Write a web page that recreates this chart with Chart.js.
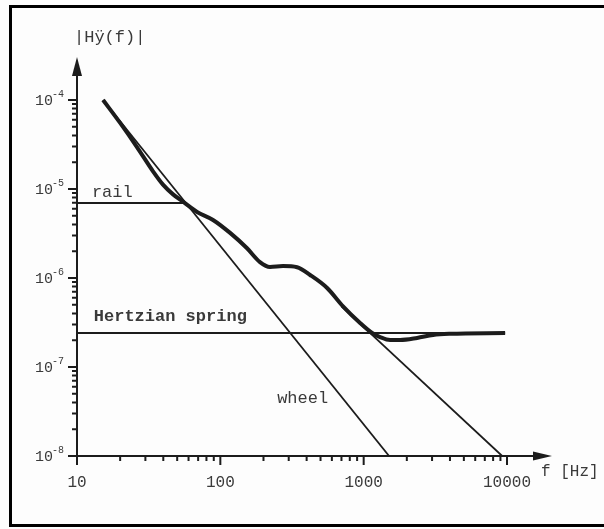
<!DOCTYPE html>
<html>
<head>
<meta charset="utf-8">
<script src="https://cdn.jsdelivr.net/npm/chart.js@4/dist/chart.umd.min.js"></script>
<style>
  html, body { margin: 0; padding: 0; background: #fdfdfd; }
  #wrap { width: 604px; height: 529px; }
</style>
</head>
<body>
<div id="wrap"><canvas id="freqChart" width="604" height="529"></canvas></div>
<script>
// total receptance |Hÿ(f)|
const totalFreq = [15.2, 20, 26.2, 33.9, 39.8, 46.8, 54.9, 68.8, 88.9, 117, 153, 189, 222, 274, 343, 423, 556, 718, 944, 1145, 1301, 1528, 1795, 2360, 3050, 4010, 9700];
const totalMag = [1e-4, 5.52e-5, 2.96e-5, 1.58e-5, 1.12e-5, 8.7e-6, 7.2e-6, 5.52e-6, 4.49e-6, 3.21e-6, 2.17e-6, 1.51e-6, 1.33e-6, 1.36e-6, 1.32e-6, 1.08e-6, 7.72e-7, 4.8e-7, 3.12e-7, 2.41e-7, 2.17e-7, 2.01e-7, 2.01e-7, 2.12e-7, 2.29e-7, 2.36e-7, 2.41e-7];

// asymptotes
const wheelFreq = [15.2, 1504];
const wheelMag = [1e-4, 1e-8];
const railFreq = [10, 55];
const railMag = [6.96e-6, 6.96e-6];
const railSlopeFreq = [700, 9250];
const railSlopeMag = [4.8e-7, 1e-8];
const hertzFreq = [10, 9700];
const hertzMag = [2.41e-7, 2.41e-7];

// axes
const xMajorTicks = [10, 100, 1000, 10000];
const xTickLabels = ['10', '100', '1000', '10000'];
const yMajorTicks = [1e-8, 1e-7, 1e-6, 1e-5, 1e-4];
const yTickExponents = ['-8', '-7', '-6', '-5', '-4'];

const ink = '#1c1c1c';
const textInk = '#3a3a3a';
const mono = '"Liberation Mono", "DejaVu Sans Mono", monospace';

function pts(xs, ys) {
  return xs.map((x, i) => ({ x: x, y: ys[i] }));
}

const axesPlugin = {
  id: 'axesPlugin',
  afterDraw(chart) {
    const ctx = chart.ctx;
    const xs = chart.scales.x;
    const ys = chart.scales.y;
    const area = chart.chartArea;
    const x0 = xs.getPixelForValue(10);
    const y0 = ys.getPixelForValue(1e-8);
    ctx.save();

    // frame
    ctx.fillStyle = '#000';
    ctx.fillRect(9, 5, chart.width - 9, 3);
    ctx.fillRect(9, 5, 3, 522);
    ctx.fillRect(9, 524, chart.width - 9, 3);

    // axis lines
    ctx.strokeStyle = ink;
    ctx.lineWidth = 2;
    ctx.beginPath();
    ctx.moveTo(x0, y0);
    ctx.lineTo(x0, area.top + 14);
    ctx.moveTo(x0, y0);
    ctx.lineTo(area.right - 14, y0);
    ctx.stroke();

    // arrow heads
    ctx.fillStyle = ink;
    ctx.beginPath();
    ctx.moveTo(x0, area.top);
    ctx.lineTo(x0 - 5, area.top + 19);
    ctx.lineTo(x0 + 5, area.top + 19);
    ctx.closePath();
    ctx.fill();
    ctx.beginPath();
    ctx.moveTo(area.right, y0);
    ctx.lineTo(area.right - 19, y0 - 4.5);
    ctx.lineTo(area.right - 19, y0 + 4.5);
    ctx.closePath();
    ctx.fill();

    // x ticks
    ctx.lineWidth = 2;
    ctx.beginPath();
    xMajorTicks.forEach((t, i) => {
      const px = xs.getPixelForValue(t);
      ctx.moveTo(px, y0);
      ctx.lineTo(px, y0 + 9);
      if (i < xMajorTicks.length - 1) {
        for (let k = 2; k <= 9; k++) {
          const mx = xs.getPixelForValue(t * k);
          ctx.moveTo(mx, y0);
          ctx.lineTo(mx, y0 + 5);
        }
      }
    });
    // y ticks
    yMajorTicks.forEach((t, i) => {
      const py = ys.getPixelForValue(t);
      ctx.moveTo(x0, py);
      ctx.lineTo(x0 - 9, py);
      if (i < yMajorTicks.length - 1) {
        for (let k = 2; k <= 9; k++) {
          const my = ys.getPixelForValue(t * k);
          ctx.moveTo(x0, my);
          ctx.lineTo(x0 - 5, my);
        }
      }
    });
    ctx.stroke();

    // x tick labels
    ctx.fillStyle = textInk;
    ctx.font = '16px ' + mono;
    ctx.textAlign = 'center';
    ctx.textBaseline = 'middle';
    xMajorTicks.forEach((t, i) => {
      ctx.fillText(xTickLabels[i], xs.getPixelForValue(t), y0 + 27);
    });

    // y tick labels 10^-n
    yMajorTicks.forEach((t, i) => {
      const py = ys.getPixelForValue(t);
      ctx.font = '15px ' + mono;
      ctx.textAlign = 'right';
      ctx.textBaseline = 'middle';
      ctx.fillText('10', 53, py + 1);
      ctx.font = '10px ' + mono;
      ctx.textAlign = 'left';
      ctx.textBaseline = 'alphabetic';
      ctx.fillText(yTickExponents[i], 52, py - 3);
    });

    // axis titles
    ctx.font = '17px ' + mono;
    ctx.textAlign = 'left';
    ctx.textBaseline = 'middle';
    ctx.fillText('|Hÿ(f)|', 74, 37);
    ctx.font = '16px ' + mono;
    ctx.fillText('f [Hz]', 541, 472);

    // curve labels
    ctx.font = '17px ' + mono;
    ctx.textBaseline = 'alphabetic';
    ctx.fillText('rail', xs.getPixelForValue(12.7), ys.getPixelForValue(railMag[0]) - 6);
    ctx.font = 'bold 17px ' + mono;
    ctx.fillText('Hertzian spring', xs.getPixelForValue(13.1), ys.getPixelForValue(hertzMag[0]) - 12);
    ctx.font = '17px ' + mono;
    ctx.fillText('wheel', xs.getPixelForValue(249), ys.getPixelForValue(4.49e-8) + 5);

    ctx.restore();
  }
};

const thin = {
  borderColor: ink,
  borderWidth: 1.8,
  pointRadius: 0,
  fill: false,
  tension: 0
};

new Chart(document.getElementById('freqChart').getContext('2d'), {
  type: 'line',
  data: {
    datasets: [
      Object.assign({ label: 'wheel', data: pts(wheelFreq, wheelMag) }, thin),
      Object.assign({ label: 'rail', data: pts(railFreq, railMag) }, thin),
      Object.assign({ label: 'rail slope', data: pts(railSlopeFreq, railSlopeMag) }, thin),
      Object.assign({ label: 'Hertzian spring', data: pts(hertzFreq, hertzMag) }, thin),
      {
        label: 'total',
        data: pts(totalFreq, totalMag),
        borderColor: ink,
        borderWidth: 4,
        pointRadius: 0,
        fill: false,
        cubicInterpolationMode: 'monotone'
      }
    ]
  },
  options: {
    responsive: false,
    animation: false,
    layout: { padding: { left: 77, top: 57, right: 52, bottom: 73 } },
    plugins: {
      legend: { display: false },
      tooltip: { enabled: false }
    },
    scales: {
      x: { type: 'logarithmic', min: 10, max: 20600, display: false },
      y: { type: 'logarithmic', min: 1e-8, max: 3.04e-4, display: false }
    }
  },
  plugins: [axesPlugin]
});
</script>
</body>
</html>
